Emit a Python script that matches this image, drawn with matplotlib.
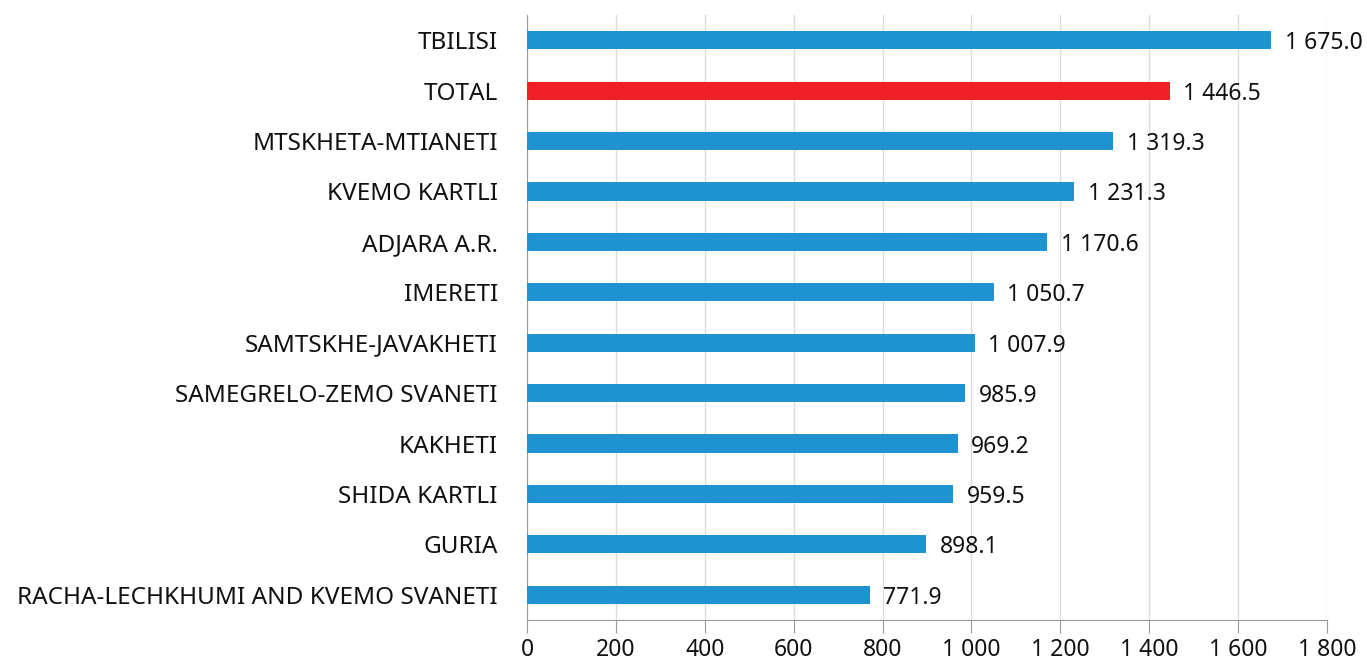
import matplotlib
matplotlib.use("Agg")
import matplotlib.pyplot as plt

regions = ["TBILISI", "TOTAL", "MTSKHETA-MTIANETI", "KVEMO KARTLI", "ADJARA A.R.",
           "IMERETI", "SAMTSKHE-JAVAKHETI", "SAMEGRELO-ZEMO SVANETI", "KAKHETI",
           "SHIDA KARTLI", "GURIA", "RACHA-LECHKHUMI AND KVEMO SVANETI"]
values = [1675.0, 1446.5, 1319.3, 1231.3, 1170.6, 1050.7, 1007.9, 985.9, 969.2,
          959.5, 898.1, 771.9]
xticks = [0, 200, 400, 600, 800, 1000, 1200, 1400, 1600, 1800]

BLUE = "#1f93d1"
RED = "#ee2026"
plt.rcParams["font.family"] = ["Noto Sans", "DejaVu Sans"]


def fmt(v, dec=1):
    s = f"{v:,.{dec}f}"
    return s.replace(",", " ")


fig = plt.figure(figsize=(13.67, 6.64), dpi=100)
ax = fig.add_axes([527 / 1367, 44 / 664, 800 / 1367, 605 / 664])

ypos = list(range(len(regions)))
colors = [RED if r == "TOTAL" else BLUE for r in regions]
ax.barh(ypos, values, height=0.36, color=colors, zorder=3)
for y, v in zip(ypos, values):
    ax.text(v + 30, y, fmt(v), va="center_baseline", ha="left", fontsize=16.5, color="#111")

ax.set_ylim(len(regions) - 0.5, -0.5)
ax.set_xlim(0, 1800)
ax.set_yticks(ypos)
ax.set_yticklabels(regions, fontsize=17.5, color="#111")
ax.set_xticks(xticks)
ax.set_xticklabels([fmt(t, 0) for t in xticks], fontsize=16.5, color="#111")
ax.tick_params(axis="y", length=0, pad=21)
ax.tick_params(axis="x", length=9, color="#999", pad=4)
ax.grid(axis="x", color="#dcdcdc", lw=1, zorder=0)
for s in ["top", "right"]:
    ax.spines[s].set_visible(False)
ax.spines["left"].set_color("#999")
ax.spines["bottom"].set_color("#999")

fig.savefig("out.png", dpi=100)
